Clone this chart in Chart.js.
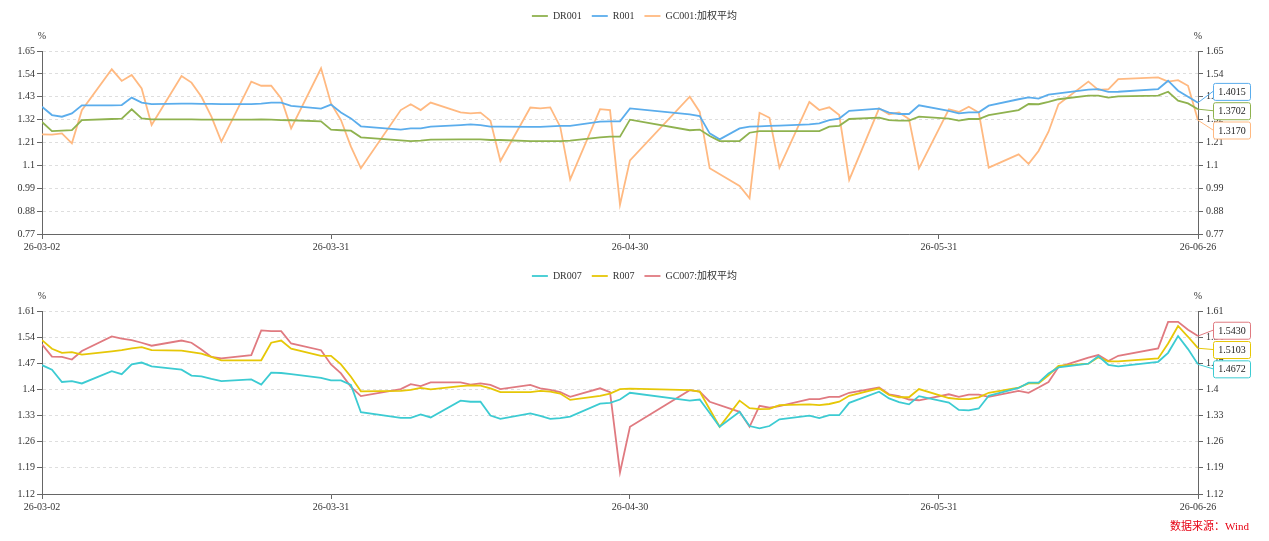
<!DOCTYPE html>
<html>
<head>
<meta charset="utf-8">
<script src="https://cdn.jsdelivr.net/npm/chart.js@4.4.1/dist/chart.umd.min.js"></script>
<style>
  body { margin: 0; background: #fff; width: 1269px; height: 541px; overflow: hidden; position: relative; }
  .panel { position: absolute; left: 0; width: 1269px; height: 260px; }
  #source { position: absolute; right: 20px; top: 517px; color: #e60012; font: 11px "Liberation Serif", "Noto Sans CJK SC", serif; }
</style>
</head>
<body>
<div class="panel" style="top:0"><canvas id="top"></canvas></div>
<div class="panel" style="top:260px"><canvas id="bottom"></canvas></div>
<div id="source">数据来源：Wind</div>
<script>
// trading days (yy-mm-dd)
var dates = [
  '26-03-02','26-03-03','26-03-04','26-03-05','26-03-06','26-03-09','26-03-10','26-03-11','26-03-12','26-03-13',
  '26-03-16','26-03-17','26-03-18','26-03-19','26-03-20','26-03-23','26-03-24','26-03-25','26-03-26','26-03-27',
  '26-03-30','26-03-31',
  '26-04-01','26-04-02','26-04-03','26-04-07','26-04-08','26-04-09','26-04-10','26-04-13','26-04-14','26-04-15',
  '26-04-16','26-04-17','26-04-20','26-04-21','26-04-22','26-04-23','26-04-24','26-04-27','26-04-28','26-04-29','26-04-30',
  '26-05-06','26-05-07','26-05-08','26-05-09','26-05-11','26-05-12','26-05-13','26-05-14','26-05-15',
  '26-05-18','26-05-19','26-05-20','26-05-21','26-05-22','26-05-25','26-05-26','26-05-27','26-05-28','26-05-29',
  '26-06-01','26-06-02','26-06-03','26-06-04','26-06-05','26-06-08','26-06-09','26-06-10','26-06-11','26-06-12',
  '26-06-15','26-06-16','26-06-17','26-06-18','26-06-22','26-06-23','26-06-24','26-06-25','26-06-26'
];
var tickLabels = ['26-03-02', '26-03-31', '26-04-30', '26-05-31', '26-06-26'];

// overnight rates, %
var dr001 = [
  1.309,1.265,1.267,1.269,1.318, 1.323,1.325,1.370,1.326,1.321, 1.321,1.321,1.320,1.320,1.320, 1.320,1.321,1.320,1.318,1.317, 1.312,1.272,
  1.269,1.267,1.235, 1.220,1.217,1.219,1.224, 1.225,1.225,1.225,1.222,1.222, 1.217,1.217,1.217,1.217,1.219, 1.235,1.238,1.238,1.320,
  1.269,1.272,1.241,1.217, 1.217,1.257,1.265,1.265,1.265, 1.265,1.265,1.286,1.290,1.323, 1.330,1.318,1.315,1.315,1.334,
  1.325,1.315,1.323,1.323,1.342, 1.366,1.395,1.394,1.405,1.418, 1.435,1.435,1.426,1.432, 1.435,1.454,1.411,1.398,1.3702
];
var r001 = [
  1.382,1.342,1.334,1.350,1.389, 1.389,1.390,1.426,1.402,1.395, 1.397,1.397,1.396,1.396,1.395, 1.395,1.397,1.402,1.402,1.386, 1.373,1.392,
  1.354,1.326,1.288, 1.272,1.278,1.278,1.286, 1.294,1.297,1.294,1.286,1.286, 1.285,1.285,1.288,1.290,1.290, 1.310,1.312,1.312,1.374,
  1.345,1.337,1.254,1.225, 1.278,1.286,1.288,1.290,1.291, 1.297,1.302,1.318,1.325,1.362, 1.373,1.354,1.347,1.347,1.389,
  1.362,1.350,1.355,1.355,1.387, 1.418,1.427,1.421,1.440,1.446, 1.464,1.467,1.453,1.454, 1.467,1.507,1.459,1.430,1.4015
];
var gc001 = [
  1.249,1.248,1.254,1.206,1.365, 1.562,1.506,1.535,1.470,1.294, 1.530,1.498,1.430,1.334,1.214, 1.503,1.483,1.483,1.422,1.278, 1.567,1.398,
  1.318,1.190,1.086, 1.366,1.394,1.366,1.402, 1.355,1.350,1.354,1.315,1.121, 1.378,1.374,1.379,1.286,1.033, 1.370,1.366,0.911,1.124,
  1.430,1.357,1.086,null, 1.001,0.942,1.353,1.329,1.089, 1.405,1.366,1.379,1.342,1.030, 1.374,1.346,1.354,1.323,1.086,
  1.370,1.357,1.382,1.354,1.089, 1.153,1.107,1.169,1.262,1.394, 1.503,1.463,1.466,1.515, 1.523,1.503,1.510,1.483,1.3170
];

// 7-day rates, %
var dr007 = [
  1.465,1.453,1.420,1.422,1.416, 1.449,1.441,1.467,1.472,1.462, 1.453,1.437,1.435,1.428,1.422, 1.427,1.413,1.445,1.444,1.441, 1.431,1.424,
  1.424,1.412,1.339, 1.324,1.324,1.333,1.325, 1.370,1.367,1.367,1.330,1.321, 1.336,1.329,1.321,1.323,1.327, 1.362,1.364,1.373,1.391,
  1.370,1.373,1.337,1.300, 1.340,1.302,1.296,1.302,1.320, 1.330,1.323,1.331,1.331,1.364, 1.394,1.376,1.366,1.360,1.382,
  1.365,1.345,1.344,1.349,1.383, 1.404,1.418,1.418,1.443,1.459, 1.469,1.489,1.466,1.462, 1.474,1.498,1.543,1.508,1.4672
];
var r007 = [
  1.532,1.509,1.498,1.500,1.493, 1.502,1.505,1.510,1.513,1.505, 1.504,1.500,1.496,1.487,1.478, 1.478,1.478,1.525,1.531,1.509, 1.490,1.490,
  1.467,1.434,1.395, 1.396,1.399,1.404,1.400, 1.409,1.411,1.410,1.403,1.393, 1.393,1.396,1.394,1.389,1.372, 1.383,1.389,1.401,1.402,
  1.398,1.394,1.347,1.300, 1.370,1.350,1.347,1.348,1.358, 1.360,1.358,1.361,1.367,1.383, 1.403,1.385,1.379,1.379,1.401,
  1.377,1.374,1.374,1.379,1.391, 1.405,1.416,1.416,1.438,1.463, 1.469,1.486,1.475,1.475, 1.483,1.523,1.570,1.541,1.5103
];
var gc007 = [
  1.521,1.488,1.487,1.480,1.503, 1.542,1.536,1.532,1.525,1.517, 1.531,1.525,1.507,1.487,1.483, 1.492,1.558,1.556,1.556,1.523, 1.505,1.467,
  1.443,1.407,1.382, 1.401,1.414,1.409,1.419, 1.419,1.413,1.416,1.412,1.401, 1.412,1.403,1.399,1.393,1.380, 1.403,1.393,1.178,1.300,
  1.398,1.394,1.367,null, 1.340,1.300,1.356,1.351,1.355, 1.374,1.374,1.380,1.380,1.391, 1.405,1.387,1.382,1.373,1.371,
  1.387,1.380,1.386,1.386,1.380, 1.396,1.391,1.405,1.420,1.460, 1.485,1.492,1.476,1.490, 1.510,1.581,1.581,1.560,1.5430
];

var FONT = '"Liberation Serif", "Times New Roman", "Noto Sans CJK SC", serif';
Chart.defaults.font.family = FONT;
Chart.defaults.font.size = 10;
Chart.defaults.color = '#333';

// days since first date, used as x position
function dayOf(s) {
  var p = s.split('-').map(Number);
  return Date.UTC(2000 + p[0], p[1] - 1, p[2]) / 864e5;
}
var day0 = dayOf(dates[0]);
var xs = dates.map(function (d) { return dayOf(d) - day0; });
var tickXs = tickLabels.map(function (d) { return dayOf(d) - day0; });

// "%" unit marks and the boxed last values on the right
var extras = {
  id: 'extras',
  afterDraw: function (chart) {
    var ctx = chart.ctx, a = chart.chartArea;
    ctx.save();
    ctx.font = '10px ' + FONT;
    ctx.fillStyle = '#333';
    ctx.textAlign = 'center';
    ctx.textBaseline = 'middle';
    ctx.fillText('%', a.left, a.top - 15);
    ctx.fillText('%', a.right, a.top - 15);

    var items = chart.data.datasets.map(function (ds, i) {
      var pts = chart.getDatasetMeta(i).data;
      var last = pts[pts.length - 1];
      return { x: last.x, y: last.y, color: ds.borderColor, text: ds.data[ds.data.length - 1].y.toFixed(4) };
    }).sort(function (p, q) { return p.y - q.y; });

    // spread boxes so they do not overlap
    var gap = 19.3;
    var groups = items.map(function (it) { return { items: [it] }; });
    function center(g) { return g.items.reduce(function (s, it) { return s + it.y; }, 0) / g.items.length; }
    var changed = true;
    while (changed) {
      changed = false;
      for (var i = 0; i < groups.length - 1; i++) {
        var g = groups[i], h = groups[i + 1];
        var gEnd = center(g) + (g.items.length - 1) * gap / 2;
        var hStart = center(h) - (h.items.length - 1) * gap / 2;
        if (hStart - gEnd < gap) {
          g.items = g.items.concat(h.items);
          groups.splice(i + 1, 1);
          changed = true;
          break;
        }
      }
    }
    var bx = a.right + 15, bw = 37, bh = 17;
    groups.forEach(function (g) {
      var c = center(g);
      g.items.forEach(function (it, k) {
        var cy = c + (k - (g.items.length - 1) / 2) * gap;
        ctx.strokeStyle = it.color;
        ctx.lineWidth = 1;
        ctx.beginPath();
        ctx.moveTo(it.x, it.y);
        ctx.lineTo(bx, cy);
        ctx.stroke();
        ctx.fillStyle = '#fff';
        ctx.beginPath();
        ctx.roundRect(bx + 0.5, cy - bh / 2 + 0.5, bw, bh, 2);
        ctx.fill();
        ctx.stroke();
        ctx.fillStyle = '#222';
        ctx.fillText(it.text, bx + 0.5 + bw / 2, cy + 1);
      });
    });
    ctx.restore();
  }
};

function fmt(v) { return String(+v.toFixed(2)); }

function makeChart(id, names, series, colors, yMin, yMax, step) {
  var axisColor = '#666';
  var yBase = {
    min: yMin, max: yMax,
    ticks: { stepSize: step, callback: fmt, padding: 2, color: '#333' },
    border: { color: axisColor, dash: [3, 3] }
  };
  new Chart(document.getElementById(id), {
    type: 'line',
    data: {
      datasets: series.map(function (vals, i) {
        return {
          label: names[i],
          data: vals.map(function (v, j) { return { x: xs[j], y: v }; }),
          borderColor: colors[i],
          backgroundColor: colors[i],
          borderWidth: 1.8,
          pointRadius: 0,
          pointHoverRadius: 0,
          tension: 0,
          fill: false,
          spanGaps: true,
          yAxisID: 'y'
        };
      })
    },
    options: {
      responsive: true,
      maintainAspectRatio: false,
      animation: false,
      layout: { padding: { top: 1, left: 0, right: 0, bottom: 0 } },
      plugins: {
        legend: {
          position: 'top',
          labels: { usePointStyle: true, pointStyle: 'line', pointStyleWidth: 16, padding: 10, color: '#333', font: { size: 10 } }
        },
        title: { display: true, text: '', weight: 500, font: { size: 10 }, padding: { top: 0, bottom: 8 } },
        tooltip: { enabled: false }
      },
      scales: {
        x: {
          type: 'linear',
          min: tickXs[0],
          max: tickXs[tickXs.length - 1],
          afterBuildTicks: function (s) { s.ticks = tickXs.map(function (v) { return { value: v }; }); },
          afterFit: function (s) { s.height = 26; },
          ticks: {
            autoSkip: false, maxRotation: 0, padding: 2, color: '#333',
            callback: function (v, i) { return tickLabels[i]; }
          },
          grid: { drawOnChartArea: false, tickLength: 5, tickColor: axisColor },
          border: { color: axisColor }
        },
        y: Object.assign({}, yBase, {
          position: 'left',
          afterFit: function (s) { s.width = 42; },
          grid: { color: '#dedede', tickLength: 5, tickColor: axisColor }
        }),
        y2: Object.assign({}, yBase, {
          position: 'right',
          afterFit: function (s) { s.width = 71; },
          ticks: { stepSize: step, callback: fmt, padding: 3, color: '#333' },
          grid: { drawOnChartArea: false, tickLength: 5, tickColor: axisColor },
          border: { color: axisColor }
        })
      }
    },
    plugins: [extras]
  });
}

makeChart('top', ['DR001', 'R001', 'GC001:加权平均'], [dr001, r001, gc001],
  ['#8fb24f', '#5badec', '#ffb981'], 0.77, 1.65, 0.11);
makeChart('bottom', ['DR007', 'R007', 'GC007:加权平均'], [dr007, r007, gc007],
  ['#3ccbd2', '#e6c707', '#e07a80'], 1.12, 1.61, 0.07);
</script>
</body>
</html>
